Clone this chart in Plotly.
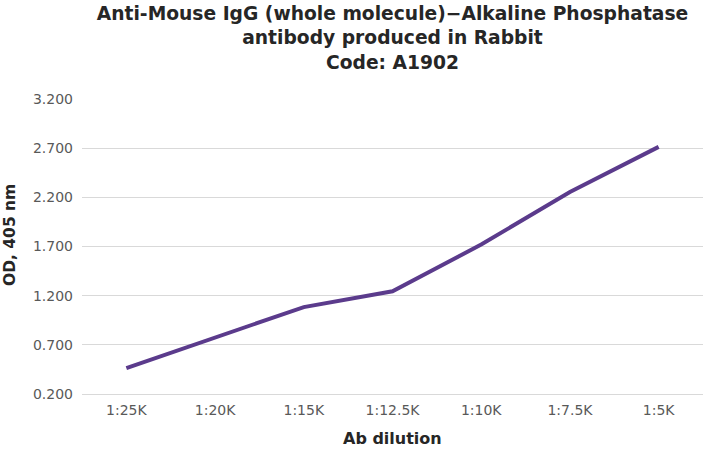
"""OD vs antibody dilution line chart."""

import plotly.graph_objects as go

dilutions = ["1:25K", "1:20K", "1:15K", "1:12.5K", "1:10K", "1:7.5K", "1:5K"]
od_405 = [0.464, 0.778, 1.084, 1.244, 1.720, 2.254, 2.713]

title_lines = [
    "Anti-Mouse IgG (whole molecule)\u2212Alkaline Phosphatase",
    "antibody produced in Rabbit",
    "Code: A1902",
]

FONT = "DejaVu Sans"
LINE_COLOUR = "#5b3b8c"
GRID_COLOUR = "#d9d9d9"
TICK_COLOUR = "#595959"
TITLE_COLOUR = "#262626"

W, H = 705, 450

fig = go.Figure(
    go.Scatter(
        x=dilutions,
        y=od_405,
        mode="lines",
        line=dict(color=LINE_COLOUR, width=4),
        hoverinfo="x+y",
    )
)

fig.update_layout(
    width=W,
    height=H,
    margin=dict(l=82, r=2, t=99, b=56, autoexpand=False),
    paper_bgcolor="white",
    plot_bgcolor="white",
    showlegend=False,
    font=dict(family=FONT, color=TICK_COLOUR),
    title=dict(
        text="<br>".join(f"<b>{t}</b>" for t in title_lines),
        font=dict(family=FONT, size=18.7, color=TITLE_COLOUR),
        x=0.5,
        xref="paper",
        xanchor="center",
        y=1 - 20 / H,
        yref="container",
        yanchor="middle",
    ),
)

fig.update_xaxes(
    type="category",
    range=[-0.5, 6.5],
    showgrid=False,
    showline=True,
    linecolor=GRID_COLOUR,
    linewidth=1,
    ticks="",
    ticklabelstandoff=3,
    tickfont=dict(family=FONT, size=14, color=TICK_COLOUR),
)

fig.update_yaxes(
    range=[0.2, 3.2],
    tick0=0.2,
    dtick=0.5,
    tickformat=".3f",
    showgrid=True,
    gridcolor=GRID_COLOUR,
    gridwidth=1,
    zeroline=False,
    showline=False,
    ticks="",
    ticklabelstandoff=8,
    tickfont=dict(family=FONT, size=14, color=TICK_COLOUR),
)

# axis titles placed as annotations to match the original placement
fig.add_annotation(
    text="<b>Ab dilution</b>",
    x=0.5,
    xref="paper",
    y=-44 / 295,
    yref="paper",
    yanchor="middle",
    showarrow=False,
    font=dict(family=FONT, size=16, color=TITLE_COLOUR),
)
fig.add_annotation(
    text="<b>OD, 405 nm</b>",
    x=(10 - 82) / 621,
    xref="paper",
    xanchor="center",
    y=(394 - 235) / 295,
    yref="paper",
    yanchor="middle",
    showarrow=False,
    textangle=-90,
    font=dict(family=FONT, size=15.5, color=TITLE_COLOUR),
)

# drop the default 8px body margin so the figure fills the window exactly
fig.write_html(
    "out.html",
    config={"displayModeBar": False},
    post_script="document.body.style.margin = '0';",
)
